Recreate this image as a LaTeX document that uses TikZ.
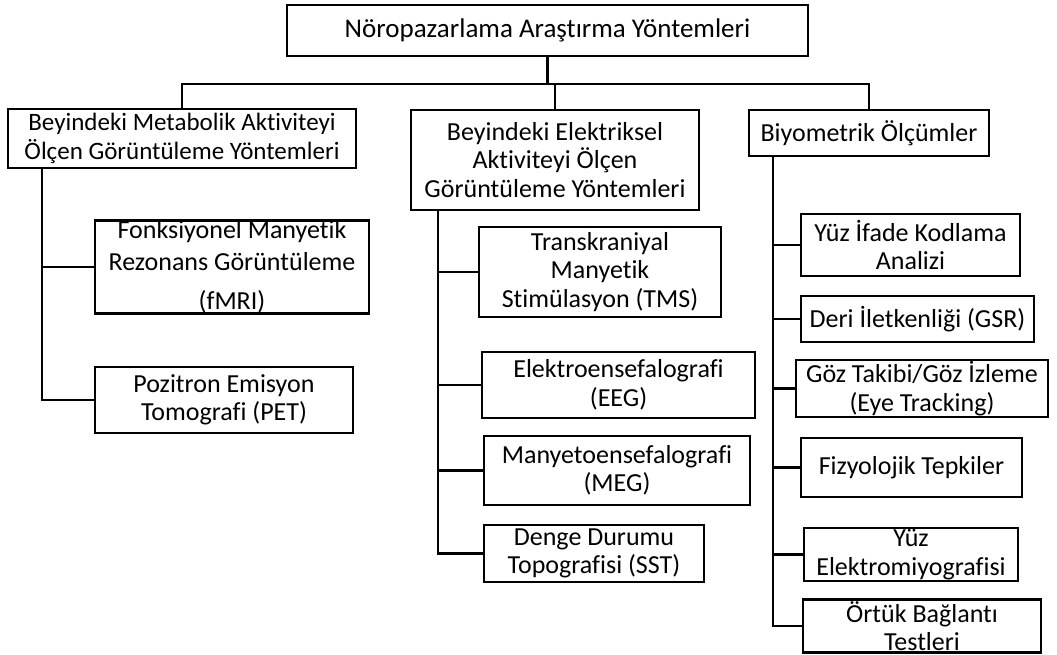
\documentclass[tikz,border=0pt]{standalone}
\usepackage{fontspec}
\setmainfont[Ligatures=NoCommon]{Carlito}
\tikzset{
  methodbox/.style={draw, line width=2.4pt, inner sep=0pt, align=center,
    font=\fontsize{26}{28.5}\selectfont},
  link/.style={line width=2.4pt}
}
\begin{document}
\begin{tikzpicture}[x=1pt,y=-1pt]
\useasboundingbox (0,0) rectangle (1057,655);
% top
\node[methodbox, minimum width=521pt, minimum height=51pt, font=\fontsize{27}{30}\selectfont] (root) at (547.5,30.5) {Nöropazarlama Araştırma Yöntemleri};
% three groups
\node[methodbox, minimum width=348pt, minimum height=59pt, font=\fontsize{25}{28.5}\selectfont] (l1) at (182,138.5) {Beyindeki Metabolik Aktiviteyi\\Ölçen Görüntüleme Yöntemleri};
\node[methodbox, minimum width=288pt, minimum height=100pt] (m1) at (555,160) {Beyindeki Elektriksel\\Aktiviteyi Ölçen\\Görüntüleme Yöntemleri};
\node[methodbox, minimum width=240pt, minimum height=46pt] (r1) at (869,133) {Biyometrik Ölçümler};
% left column
\node[methodbox, minimum width=274pt, minimum height=92pt] (fmri) at (232,267) {Fonksiyonel Manyetik\\[3pt]Rezonans Görüntüleme\\[11pt](fMRI)};
\node[methodbox, minimum width=258pt, minimum height=66pt] (pet) at (224,400) {Pozitron Emisyon\\Tomografi (PET)};
% middle column
\node[methodbox, minimum width=242pt, minimum height=90pt] (tms) at (600,272) {Transkraniyal\\Manyetik\\Stimülasyon (TMS)};
\node[methodbox, minimum width=273pt, minimum height=66pt] (eeg) at (618.5,385) {Elektroensefalografi\\(EEG)};
\node[methodbox, minimum width=266pt, minimum height=69pt] (meg) at (617,470.5) {Manyetoensefalografi\\(MEG)};
\node[methodbox, minimum width=220pt, minimum height=57pt] (sst) at (594,553.5) {Denge Durumu\\Topografisi (SST)};
% right column
\node[methodbox, minimum width=219pt, minimum height=62pt] (yifade) at (910.5,245) {Yüz İfade Kodlama\\Analizi};
\node[methodbox, minimum width=233pt, minimum height=46pt] (deri) at (917.5,319) {Deri İletkenliği (GSR)};
\node[methodbox, minimum width=252pt, minimum height=57pt] (goz) at (922,388.5) {Göz Takibi/Göz İzleme\\(Eye Tracking)};
\node[methodbox, minimum width=221pt, minimum height=59pt] (fiz) at (911.5,467.5) {Fizyolojik Tepkiler};
\node[methodbox, minimum width=214pt, minimum height=53pt] (yemg) at (911,554.5) {Yüz\\Elektromiyografisi};
\node[methodbox, minimum width=238pt, minimum height=53pt, font=\fontsize{26}{28}\selectfont] (ortuk) at (922,626) {Örtük Bağlantı\\Testleri};
% connectors
\draw[link] (root.south) -- ++(0,27) coordinate (bar);
\draw[link] (l1.north) |- (bar) -| (r1.north);
\draw[link] (m1.north) -- (m1.north |- bar);
\coordinate (lt) at ([xshift=35pt]l1.south west);
\coordinate (mt) at ([xshift=28pt]m1.south west);
\coordinate (rt) at ([xshift=25pt]r1.south west);
\foreach \n in {fmri,pet} \draw[link] (lt) |- (\n.west);
\foreach \n in {tms,eeg,meg,sst} \draw[link] (mt) |- (\n.west);
\foreach \n in {yifade,deri,goz,fiz,yemg,ortuk} \draw[link] (rt) |- (\n.west);
\end{tikzpicture}
\end{document}
